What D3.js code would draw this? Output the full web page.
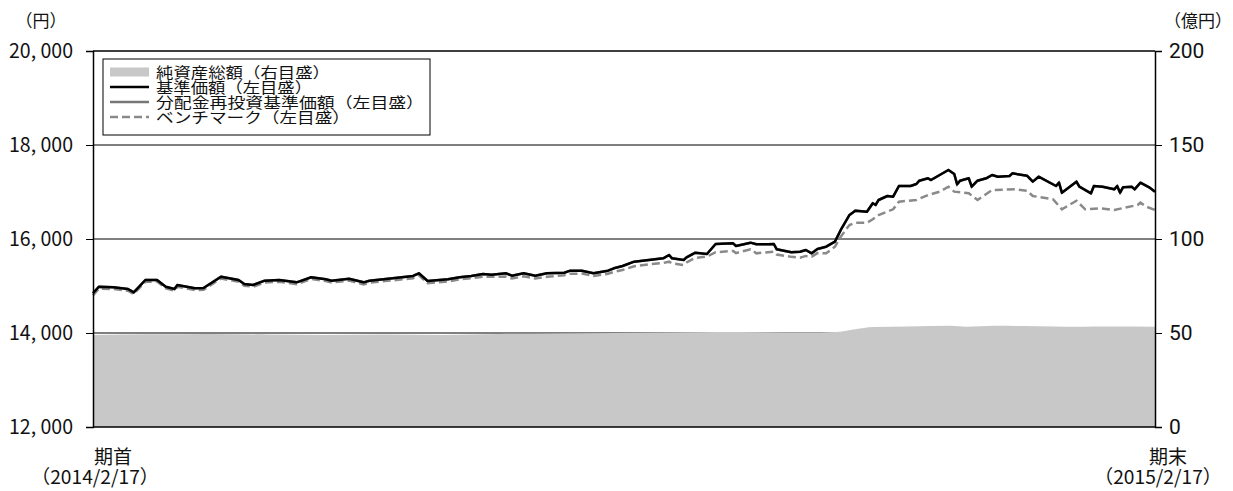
<!DOCTYPE html>
<html>
<head>
<meta charset="utf-8">
<script src="https://cdn.jsdelivr.net/npm/d3@7"></script>
<style>
  body { margin: 0; background: #fff; }
  text { font-family: "Noto Sans CJK JP", "DejaVu Sans", sans-serif; fill: #111; }
</style>
</head>
<body>
<svg id="chart"></svg>
<script>
// days counted from the start of the period (2014/2/17)
var navDays = [0, 2, 7, 12, 14, 18, 22, 25, 28, 29, 35, 38, 44, 50, 52, 55, 59, 64, 70, 75,
  80, 82, 88, 93, 95, 103, 110, 112, 115, 122, 126, 130, 134, 137, 142, 144, 148, 152, 156, 162,
  164, 168, 172, 177, 179, 182, 186, 191, 196, 198, 199, 203, 204, 207, 211, 214, 220, 221, 226, 228,
  232, 234, 235, 240, 243, 245, 247, 249, 252, 255, 257, 260, 262, 266, 268, 269, 270, 273, 275, 277,
  281, 283, 284, 287, 288, 291, 294, 296, 297, 298, 301, 302, 304, 307, 309, 311, 315, 316, 321, 323,
  325, 331, 332, 333, 338, 339, 343, 344, 347, 351, 352, 353, 354, 357, 358, 360, 363, 365];
var navValues = [14845, 14985, 14972, 14936, 14865, 15128, 15128, 14985, 14936, 15021, 14951, 14957, 15198, 15128, 15042, 15021, 15113, 15128, 15078, 15185,
  15142, 15113, 15155, 15078, 15113, 15164, 15213, 15270, 15106, 15142, 15185, 15213, 15255, 15240, 15270, 15219, 15270, 15219, 15270, 15283,
  15326, 15326, 15270, 15326, 15376, 15425, 15517, 15553, 15589, 15660, 15589, 15553, 15610, 15708, 15681, 15894, 15908, 15851, 15922, 15887,
  15887, 15894, 15781, 15717, 15730, 15766, 15695, 15787, 15836, 15943, 16192, 16511, 16603, 16581, 16760, 16724, 16830, 16915, 16900, 17128,
  17128, 17170, 17241, 17291, 17255, 17362, 17468, 17383, 17163, 17241, 17291, 17113, 17241, 17291, 17362, 17326, 17341, 17397, 17348, 17220,
  17326, 17128, 17198, 16985, 17220, 17113, 16972, 17128, 17113, 17057, 17128, 16985, 17099, 17113, 17057, 17198, 17099, 17007];

var benchDays = [0, 2, 7, 12, 14, 18, 22, 25, 28, 29, 35, 38, 44, 50, 52, 55, 59, 64, 70, 75,
  80, 82, 88, 93, 95, 103, 110, 112, 115, 122, 126, 130, 134, 137, 142, 144, 148, 152, 156, 162,
  164, 168, 172, 177, 179, 182, 186, 191, 196, 198, 199, 203, 204, 207, 211, 214, 220, 221, 226, 228,
  232, 234, 235, 240, 243, 245, 247, 249, 252, 255, 257, 260, 262, 266, 268, 270, 275, 277, 283, 287,
  291, 294, 296, 301, 304, 309, 317, 321, 323, 330, 333, 338, 341, 346, 351, 359, 360, 362, 365];
var benchValues = [14800, 14945, 14935, 14900, 14830, 15090, 15095, 14950, 14900, 14985, 14915, 14920, 15160, 15090, 15005, 14985, 15075, 15090, 15040, 15150,
  15105, 15075, 15115, 15035, 15070, 15120, 15165, 15225, 15060, 15095, 15140, 15165, 15200, 15195, 15200, 15160, 15205, 15160, 15195, 15230,
  15260, 15265, 15213, 15260, 15300, 15340, 15420, 15460, 15490, 15517, 15480, 15447, 15500, 15600, 15624, 15720, 15745, 15700, 15781, 15695,
  15720, 15730, 15670, 15620, 15600, 15640, 15624, 15700, 15695, 15836, 16050, 16298, 16347, 16347, 16420, 16511, 16632, 16795, 16830, 16936,
  17007, 17113, 17007, 16972, 16830, 17043, 17057, 17028, 16915, 16844, 16632, 16815, 16632, 16653, 16617, 16724, 16773, 16688, 16617];

// net assets (億円)
var assetDays = [0, 20, 40, 60, 80, 100, 120, 140, 160, 180, 200, 215, 230, 245, 255, 262, 268, 280, 295, 300,
  310, 320, 330, 340, 350, 365];
var assetValues = [49.0, 49.3, 49.5, 49.2, 49.0, 49.2, 49.0, 49.5, 49.8, 50.0, 50.2, 50.5, 50.4, 50.2, 50.5, 52.0, 53.2, 53.4, 53.8, 53.3,
  53.8, 53.7, 53.5, 53.3, 53.4, 53.3];

var leftTicks = [12000, 14000, 16000, 18000, 20000];
var rightTicks = [0, 50, 100, 150, 200];
var legendLabels = ["純資産総額（右目盛）", "基準価額（左目盛）", "分配金再投資基準価額（左目盛）", "ベンチマーク（左目盛）"];
var legendWidths = [174, 156, 268, 194];

var margin = { top: 51, right: 78, bottom: 64, left: 93 };
var width = 1233 - margin.left - margin.right;
var height = 491 - margin.top - margin.bottom;

var svg = d3.select("#chart")
    .attr("width", 1233)
    .attr("height", 491);

var g = svg.append("g")
    .attr("transform", "translate(" + margin.left + "," + margin.top + ")");

var xScale = d3.scaleLinear().domain([0, 365]).range([0, width]);
var yLeft = d3.scaleLinear().domain([12000, 20000]).range([height, 0]);
var yRight = d3.scaleLinear().domain([0, 200]).range([height, 0]);

// gridlines
g.selectAll(".grid")
    .data(leftTicks.slice(1, 4))
    .enter()
    .append("line")
    .attr("x1", 0)
    .attr("x2", width)
    .attr("y1", d => yLeft(d))
    .attr("y2", d => yLeft(d))
    .attr("stroke", "#000")
    .attr("stroke-width", 1);

// net assets area
var assets = assetDays.map((d, i) => ({ day: d, v: assetValues[i] }));
g.append("path")
    .datum(assets)
    .attr("fill", "#c8c8c8")
    .attr("d", d3.area()
        .x(d => xScale(d.day))
        .y0(yRight(0))
        .y1(d => yRight(d.v))
        .curve(d3.curveMonotoneX));

var nav = navDays.map((d, i) => ({ day: d, v: navValues[i] }));
var bench = benchDays.map((d, i) => ({ day: d, v: benchValues[i] }));
var line = d3.line().x(d => xScale(d.day)).y(d => yLeft(d.v));

g.append("path")
    .datum(bench)
    .attr("fill", "none")
    .attr("stroke", "#8a8a8a")
    .attr("stroke-width", 2.5)
    .attr("stroke-dasharray", "8,4")
    .attr("d", line);

// reinvested NAV equals NAV (no distributions), hidden under it
g.append("path")
    .datum(nav)
    .attr("fill", "none")
    .attr("stroke", "#777")
    .attr("stroke-width", 2.5)
    .attr("d", line);

g.append("path")
    .datum(nav)
    .attr("fill", "none")
    .attr("stroke", "#000")
    .attr("stroke-width", 2.5)
    .attr("stroke-linejoin", "round")
    .attr("d", line);

// frame top line
g.append("line")
    .attr("x1", 0).attr("x2", width)
    .attr("y1", 0).attr("y2", 0)
    .attr("stroke", "#000").attr("stroke-width", 1.5);

// axes
var leftAxis = d3.axisLeft(yLeft)
    .tickValues(leftTicks)
    .tickSize(7)
    .tickFormat(d => d3.format(",")(d).replace(",", ", "));
var rightAxis = d3.axisRight(yRight)
    .tickValues(rightTicks)
    .tickSize(7);

var la = g.append("g").call(leftAxis);
var ra = g.append("g").attr("transform", "translate(" + width + ",0)").call(rightAxis);
[la, ra].forEach(function(a) {
    a.select(".domain").attr("stroke-width", 1.5).attr("stroke", "#000");
    a.selectAll(".tick line").attr("stroke", "#000");
    a.selectAll(".tick text").attr("fill", "#111");
});
la.selectAll(".tick text")
    .attr("x", -20)
    .attr("textLength", 64)
    .attr("lengthAdjust", "spacingAndGlyphs")
    .style("font-family", "'Noto Sans CJK JP'")
    .style("font-size", "20px");
ra.selectAll(".tick text")
    .attr("x", 14)
    .style("font-family", "'Liberation Sans Narrow', 'Roboto'")
    .style("font-size", "21px");

// bottom line
g.append("line")
    .attr("x1", 0).attr("x2", width)
    .attr("y1", height).attr("y2", height)
    .attr("stroke", "#000").attr("stroke-width", 1.5);

// unit labels
svg.append("text").attr("x", 41).attr("y", 27).attr("text-anchor", "middle")
    .style("font-size", "17px").text("（円）");
svg.append("text").attr("x", 1198).attr("y", 27).attr("text-anchor", "middle")
    .style("font-size", "17px").text("（億円）");

// period labels
function periodLabel(xTop, xBottom, top, bottom) {
    svg.append("text").attr("x", xTop).attr("y", 464).attr("text-anchor", "middle")
        .style("font-size", "19px").text(top);
    svg.append("text").attr("x", xBottom).attr("y", 484).attr("text-anchor", "middle")
        .attr("textLength", 128).attr("lengthAdjust", "spacingAndGlyphs")
        .style("font-size", "19px").text(bottom);
}
periodLabel(113, 95, "期首", "（2014/2/17）");
periodLabel(1168, 1158, "期末", "（2015/2/17）");

// legend
var legend = svg.append("g").attr("transform", "translate(103,59)");
legend.append("rect")
    .attr("width", 327).attr("height", 76)
    .attr("fill", "#fff").attr("stroke", "#000").attr("stroke-width", 1);

var rows = legend.selectAll(".row")
    .data(legendLabels)
    .enter()
    .append("g")
    .attr("transform", (d, i) => "translate(0," + (13 + i * 15) + ")");

rows.each(function(d, i) {
    var r = d3.select(this);
    if (i === 0) {
        r.append("rect").attr("x", 7).attr("y", -4.5).attr("width", 39).attr("height", 9).attr("fill", "#c8c8c8");
    } else {
        r.append("line").attr("x1", 7).attr("x2", 46).attr("y1", 0).attr("y2", 0)
            .attr("stroke", i === 1 ? "#000" : (i === 2 ? "#777" : "#8a8a8a"))
            .attr("stroke-width", 2.5)
            .attr("stroke-dasharray", i === 3 ? "8,4" : null);
    }
    r.append("text").attr("x", 53).attr("y", 5.5)
        .attr("textLength", legendWidths[i])
        .attr("lengthAdjust", "spacingAndGlyphs")
        .style("font-size", "15px").text(d);
});
</script>
</body>
</html>
